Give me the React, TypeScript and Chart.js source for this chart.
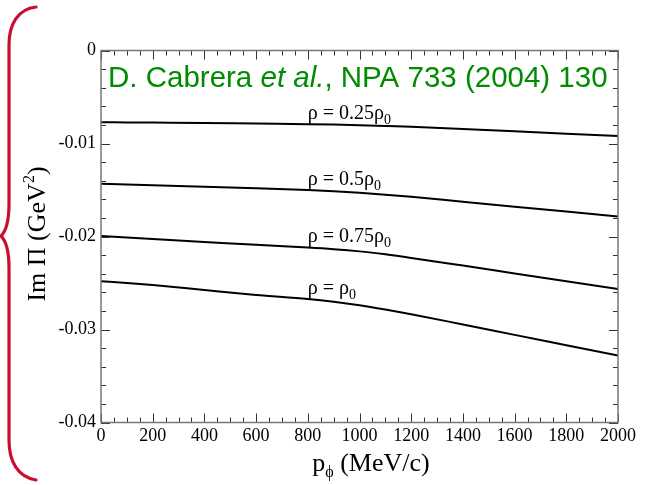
import React, { useEffect, useRef } from "react";
import { Chart, registerables } from "chart.js";

Chart.register(...registerables);

// p_phi (MeV/c)
const X_VALUES = [0, 100, 200, 400, 600, 800, 900, 1000, 1100, 1200, 1400, 1600, 1800, 2000];
// Im Pi (GeV^2) for each density
const RHO_025 = [-0.00771, -0.00773, -0.00775, -0.00779, -0.00786, -0.00792, -0.00797, -0.00804, -0.00812, -0.00821, -0.00844, -0.00869, -0.00894, -0.00919];
const RHO_050 = [-0.01433, -0.0144, -0.01448, -0.01465, -0.01482, -0.015, -0.01513, -0.0153, -0.0155, -0.01573, -0.01626, -0.01679, -0.01732, -0.01785];
const RHO_075 = [-0.01995, -0.0201, -0.02026, -0.02058, -0.0209, -0.02118, -0.02136, -0.0216, -0.02192, -0.0223, -0.02313, -0.02397, -0.02481, -0.02565];
const RHO_100 = [-0.02481, -0.025, -0.02522, -0.02575, -0.02628, -0.02672, -0.02702, -0.0274, -0.02786, -0.02836, -0.02946, -0.03058, -0.03169, -0.0328];
const SERIES = [RHO_025, RHO_050, RHO_075, RHO_100];
const SERIES_COEFFS = ["0.25", "0.5", "0.75", ""];
const LABEL_AT_X = 800;

const TITLE_PARTS = ["D. Cabrera ", "et al.", ", NPA 733 (2004) 130"];
const Y_TITLE = ["Im Π (GeV", "2", ")"];
const X_TITLE = ["p", "ϕ", " (MeV/c)"];

const SERIF = "'Liberation Serif', 'Times New Roman', serif";
const SANS = "'Liberation Sans', Arial, sans-serif";

type Part = { text: string; font: string; dy: number };

function drawParts(ctx: CanvasRenderingContext2D, x: number, y: number, parts: Part[]) {
  let cx = x;
  for (const p of parts) {
    ctx.font = p.font;
    ctx.fillText(p.text, cx, y + p.dy);
    cx += ctx.measureText(p.text).width;
  }
  return cx - x;
}
function measureParts(ctx: CanvasRenderingContext2D, parts: Part[]) {
  let w = 0;
  for (const p of parts) {
    ctx.font = p.font;
    w += ctx.measureText(p.text).width;
  }
  return w;
}

const decorPlugin = {
  id: "decor",
  afterDraw(chart: any) {
    const { ctx, chartArea: a, scales } = chart;
    const x = scales.x;
    const y = scales.y;
    ctx.save();
    // inward ticks
    ctx.strokeStyle = "#333";
    ctx.lineWidth = 1;
    ctx.beginPath();
    for (let i = 0; i <= 40; i++) {
      const px = Math.round(x.getPixelForValue(i * 50)) + 0.5;
      const len = i % 4 === 0 ? 9 : 5;
      ctx.moveTo(px, a.bottom);
      ctx.lineTo(px, a.bottom - len);
      ctx.moveTo(px, a.top);
      ctx.lineTo(px, a.top + len);
    }
    for (let i = 0; i <= 20; i++) {
      const py = Math.round(y.getPixelForValue(-i * 0.002)) + 0.5;
      const len = i % 5 === 0 ? 9 : 5;
      ctx.moveTo(a.left, py);
      ctx.lineTo(a.left + len, py);
      ctx.moveTo(a.right, py);
      ctx.lineTo(a.right - len, py);
    }
    ctx.stroke();
    // frame
    ctx.strokeStyle = "#777";
    ctx.lineWidth = 1.5;
    ctx.strokeRect(a.left, a.top, a.right - a.left, a.bottom - a.top);

    // curve labels
    ctx.fillStyle = "#000";
    ctx.textBaseline = "alphabetic";
    ctx.textAlign = "left";
    const li = X_VALUES.indexOf(LABEL_AT_X);
    SERIES.forEach((vals, k) => {
      const lx = x.getPixelForValue(LABEL_AT_X);
      const ly = y.getPixelForValue(vals[li]) - 5;
      drawParts(ctx, lx, ly, [
        { text: "ρ = " + SERIES_COEFFS[k] + "ρ", font: `20px ${SERIF}`, dy: 0 },
        { text: "0", font: `14px ${SERIF}`, dy: 5 },
      ]);
    });

    // green reference title
    ctx.fillStyle = "rgb(0,140,0)";
    drawParts(ctx, a.left + 7, 87, [
      { text: TITLE_PARTS[0], font: `29.5px ${SANS}`, dy: 0 },
      { text: TITLE_PARTS[1], font: `italic 29.5px ${SANS}`, dy: 0 },
      { text: TITLE_PARTS[2], font: `29.5px ${SANS}`, dy: 0 },
    ]);

    // x title
    ctx.fillStyle = "#000";
    const xParts: Part[] = [
      { text: X_TITLE[0], font: `26px ${SERIF}`, dy: 0 },
      { text: X_TITLE[1], font: `16px ${SERIF}`, dy: 6 },
      { text: X_TITLE[2], font: `26px ${SERIF}`, dy: 0 },
    ];
    const xw = measureParts(ctx, xParts);
    drawParts(ctx, 371 - xw / 2, 471, xParts);

    // y title (rotated)
    const yParts: Part[] = [
      { text: Y_TITLE[0], font: `26px ${SERIF}`, dy: 0 },
      { text: Y_TITLE[1], font: `16px ${SERIF}`, dy: -11 },
      { text: Y_TITLE[2], font: `26px ${SERIF}`, dy: 0 },
    ];
    const yw = measureParts(ctx, yParts);
    ctx.save();
    ctx.translate(45, 234);
    ctx.rotate(-Math.PI / 2);
    drawParts(ctx, -yw / 2, 0, yParts);
    ctx.restore();

    // red brace
    ctx.strokeStyle = "#c8102e";
    ctx.lineWidth = 3.2;
    ctx.lineCap = "round";
    ctx.beginPath();
    ctx.moveTo(36, 7);
    ctx.bezierCurveTo(18, 9, 9, 24, 9, 45);
    ctx.lineTo(9, 204);
    ctx.bezierCurveTo(9, 222, 6, 231, 1, 236);
    ctx.bezierCurveTo(6, 241, 9, 250, 9, 268);
    ctx.lineTo(9, 440);
    ctx.bezierCurveTo(9, 462, 18, 477, 36, 480);
    ctx.stroke();
    ctx.restore();
  },
};

export default function App() {
  const ref = useRef<HTMLCanvasElement | null>(null);
  useEffect(() => {
    const canvas = ref.current;
    if (!canvas) return;
    const datasets = SERIES.map((vals, k) => ({
      label: "rho=" + (SERIES_COEFFS[k] || "1"),
      data: X_VALUES.map((xv, i) => ({ x: xv, y: vals[i] })),
      borderColor: "#000",
      borderWidth: 2,
      pointRadius: 0,
      fill: false,
      cubicInterpolationMode: "monotone" as const,
    }));
    const tickFont = { family: SERIF, size: 18 };
    const chart = new Chart(canvas, {
      type: "line",
      data: { datasets },
      options: {
        animation: false,
        responsive: false,
        layout: { padding: { left: 0, top: 50.5, right: 36, bottom: 0 } },
        plugins: { legend: { display: false }, tooltip: { enabled: false } },
        scales: {
          x: {
            type: "linear",
            min: 0,
            max: 2000,
            grid: { display: false, drawTicks: false },
            border: { display: false },
            ticks: {
              stepSize: 200,
              color: "#000",
              font: tickFont,
              padding: 3,
              maxRotation: 0,
              autoSkip: false,
              callback: (v: any) => String(v),
            },
            afterFit: (s: any) => {
              s.height = 62.5;
            },
          },
          y: {
            type: "linear",
            min: -0.04,
            max: 0,
            grid: { display: false, drawTicks: false },
            border: { display: false },
            ticks: {
              stepSize: 0.01,
              color: "#000",
              font: tickFont,
              padding: 5,
              autoSkip: false,
              callback: (v: any) => (Math.abs(v) < 1e-9 ? "0" : Number(v).toFixed(2)),
            },
            afterFit: (s: any) => {
              s.width = 101;
            },
          },
        },
      },
      plugins: [decorPlugin],
    });
    return () => chart.destroy();
  }, []);
  return (
    <div style={{ position: "fixed", left: 0, top: 0, width: 654, height: 485, background: "#fff" }}>
      <canvas ref={ref} width={654} height={485} style={{ display: "block" }} />
    </div>
  );
}
